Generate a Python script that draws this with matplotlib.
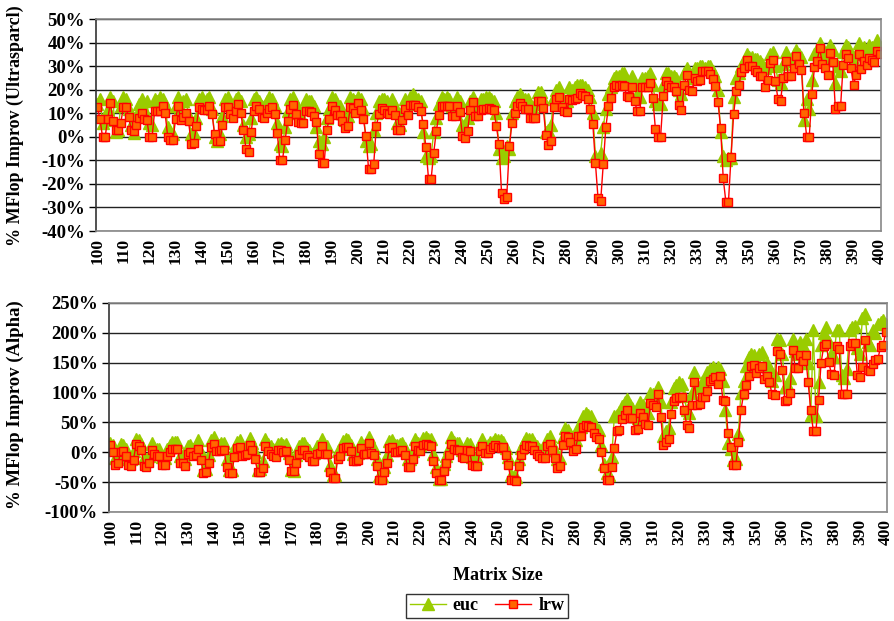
import numpy as np
import matplotlib
matplotlib.use("Agg")
import matplotlib.pyplot as plt
from matplotlib.ticker import FuncFormatter

# -----------------------------------------------------------------------------
# Data: % MFlop improvement per matrix size (100..400)
# -----------------------------------------------------------------------------

sizes = list(range(100, 401))
tick_sizes = list(range(100, 401, 10))
series_names = ['euc', 'lrw']

# Ultrasparc I, euc
euc_ultra = [
    14, 16, 6, 7, 12, 17, 15, 2, 3, 13,
    17, 16, 12, 5, 1.5, 9, 14, 16, 12, 15,
    6, 5, 16, 15, 17, 16, 14, 4, 2, 1,
    13, 17, 12, 15, 16, 9, 1, 1.5, 8, 16,
    17, 15, 16, 17, 12, 0, -2, 1, 9, 16,
    17, 14, 13, 16, 17, 15, 5, 0, 1, 8,
    16, 17, 15, 13, 12, 15, 17, 16, 13, 6,
    -3, -4, 4, 11, 16, 17, 14, 10, 9, 12,
    16, 15, 15, 13, 4, -2, -3, 0, 8, 12,
    17, 16, 14, 13, 10, 7, 9, 17, 16, 15,
    17, 16, 12, -2, -4, -3, 3, 10, 15, 16,
    16, 15, 14, 16, 13, 6, 5, 11, 16, 14,
    17, 18, 17, 16, 15, 2, -8, -9, -8, 2,
    8, 14, 17, 16, 17, 16, 13, 13, 17, 15,
    5, 4, 8, 15, 17, 14, 13, 16, 16, 17,
    17, 16, 15, 10, -5, -9, -8, -4, -5, 10,
    15, 17, 18, 17, 16, 16, 13, 12, 14, 19,
    19, 16, 2, 3, 5, 17, 20, 21, 17, 15,
    15, 21, 20, 21, 22, 22, 22, 21, 20, 17,
    10, -8, -10, -7, 4, 12, 18, 21, 25, 26,
    26, 27, 27, 24, 23, 26, 22, 18, 17, 25,
    25, 26, 27, 22, 15, 14, 14, 22, 27, 27,
    26, 26, 25, 20, 18, 27, 29, 27, 25, 29,
    29, 30, 30, 29, 30, 30, 28, 26, 20, 2,
    -8, -10, -9, -9, 17, 25, 27, 30, 32, 35,
    34, 34, 33, 33, 32, 31, 29, 31, 35, 36,
    30, 24, 23, 31, 36, 33, 32, 35, 37, 35,
    34, 7, 16, 12, 24, 35, 36, 40, 36, 35,
    33, 39, 37, 23, 30, 28, 36, 39, 38, 35,
    32, 35, 40, 36, 38, 37, 39, 38, 37, 41,
    38,
]

# Ultrasparc I, lrw
lrw_ultra = [
    12.5, 7.7, 0, 0, 7.5, 14.5, 6.5, 3, 3, 6,
    12.5, 12.5, 8.5, 3, 2.5, 5, 8, 10, 7.5, 7,
    0, 0, 11, 11, 11, 13, 10, 0, -1.5, -1.5,
    7.5, 13, 7, 8.5, 10, 6.5, -3, -2.5, 4.5, 12.5,
    12, 11.5, 11.5, 13, 9.5, 1, -2, -2, 5, 12.5,
    12.5, 9.5, 8, 11, 14, 10, 3, -5, -6.5, 2,
    11, 13, 12, 8.5, 8, 10, 12, 12.5, 9.5, 1.5,
    -10, -10, -1.5, 6.5, 12, 13.5, 9.6, 6.2, 5.8, 6,
    11, 11, 10.6, 9, 6.2, -7.4, -11.2, -11, 3, 7.7,
    13, 11.5, 9.4, 9.4, 6.5, 3.7, 4.7, 12.5, 12.2, 10,
    14.3, 11.5, 7.7, 0.4, -13.6, -13.6, -11.5, 4.7, 9.6, 12.2,
    11.5, 10, 9.6, 11.5, 9.4, 3, 2.7, 7.2, 11.9, 9.4,
    13.6, 13.5, 13.5, 12.6, 11, 5.4, -4.5, -17.9, -17.9, -6.8,
    2.6, 9.4, 12.9, 12.9, 12.9, 12.9, 8.7, 8.7, 12.9, 10.4,
    0.4, -0.6, 2.6, 11.5, 14.8, 9, 9, 11.5, 11.8, 12,
    12.2, 11.9, 11.5, 4.7, -3, -23.7, -26.5, -25.4, -4.1, 5.8,
    10, 12.9, 14.3, 12.9, 11.9, 11.9, 8, 7.8, 8, 15,
    15, 12.2, 0.6, -3.4, -2, 12.6, 16, 16.9, 12.6, 10.8,
    10.5, 16, 15.7, 16.2, 16.5, 18.6, 17.9, 17.2, 16, 12,
    5.5, -11.2, -26.1, -27.4, -11.6, 4.1, 12.9, 16.5, 21.1, 22.1,
    21.7, 22.1, 21.7, 17.2, 16.7, 21, 15, 11.1, 10.8, 21,
    21, 21.1, 22.8, 16.3, 3.3, 0.1, 0.1, 17.2, 23.5, 22.1,
    21.1, 21, 19.3, 13.6, 11.2, 21.8, 26.4, 20, 19.3, 25,
    23.8, 24.3, 27.8, 27.8, 28.1, 26.8, 24.7, 21.4, 14.8, 3.7,
    -17.6, -27.5, -27.9, -8.4, 9.6, 19.6, 22.1, 27.4, 29.2, 32.8,
    29.9, 29.9, 28.5, 27.4, 25.7, 26, 21, 24, 31.3, 32.8,
    23.5, 16, 15.3, 25, 32.1, 26, 26, 29.2, 34.2, 31.1,
    28.5, 10, 0.1, 0.1, 18.3, 29.6, 32.1, 37.7, 30.9, 29.2,
    26.4, 35.6, 31.6, 11.8, 13.2, 12.9, 30.6, 35.2, 33.5, 29,
    22.1, 26.4, 35.2, 28.8, 32.1, 30.6, 33.5, 32.8, 31.8, 36.3,
    35.2,
]

# Alpha, euc
euc_alpha = [
    15, 12, -10, -5, 14, 13, 5, -12, -12, 2,
    22, 20, 14, -10, -12, -6, 15, 8, 5, 6,
    -8, -10, 5, 12, 18, 18, 18, -6, -5, -12,
    10, 12, 5, 6, 20, 0, -30, -28, -5, 20,
    25, 14, 12, 15, 16, -12, -30, -30, 5, 18,
    20, 6, 8, 10, 24, 15, 0, -30, -28, -15,
    22, 14, 10, 6, 4, 14, 16, 12, 14, -2,
    -30, -32, -5, 10, 16, 15, 8, 4, -3, -2,
    10, 12, 22, 10, 10, -22, -38, -38, 2, 5,
    19, 22, 20, 13, -3, -2, -1, 18, 10, 10,
    25, 12, 8, -12, -40, -40, -25, -5, 19, 21,
    13, 12, 14, 15, 8, -12, -12, 2, 22, 15,
    13, 24, 25, 23, 22, -3, -25, -44, -44, -20,
    -6, 7, 25, 18, 16, 15, 4, 2, 15, 14,
    -8, -10, -10, 14, 22, 11, 12, 18, 18, 22,
    20, 20, 18, 8, -8, -38, -40, -42, -12, 8,
    18, 24, 22, 22, 15, 10, 6, 4, 4, 22,
    27, 16, 3, -12, -10, 25, 40, 38, 30, 15,
    20, 42, 42, 60, 65, 62, 60, 48, 42, 38,
    12, -20, -35, -38, -8, 60, 62, 68, 78, 85,
    90, 80, 75, 60, 58, 85, 80, 68, 65, 100,
    98, 95, 110, 85, 28, 35, 40, 85, 108, 112,
    118, 115, 95, 70, 65, 100, 135, 110, 108, 118,
    120, 135, 140, 142, 140, 142, 140, 120, 70, 15,
    5, -13, -12, 31, 100, 120, 145, 160, 165, 163,
    155, 165, 168, 145, 150, 142, 120, 130, 190, 188,
    165, 110, 115, 125, 190, 170, 165, 185, 180, 190,
    150, 62, 205, 60, 118, 180, 200, 210, 185, 165,
    160, 205, 205, 130, 125, 140, 205, 210, 212, 175,
    165, 225, 232, 185, 180, 205, 200, 215, 218, 222,
    215,
]

# Alpha, lrw
lrw_alpha = [
    11.8, 0.6, -20.8, -18, 0, 1.7, -6.7, -21.9, -23.6, -12.4,
    14.6, 10.1, 4.5, -23, -24.7, -18, 3.4, -2.2, -6.2, -6.7,
    -20.8, -21.9, -6.7, 0.6, 6.2, 6.2, 6.2, -18, -18, -23.6,
    -2.2, 0.6, -6.2, -5, 6.2, -12.4, -34.8, -33.1, -17.4, 9,
    13.5, 1.7, 1.7, 3.4, 4.5, -24.7, -34.8, -34.8, -7.9, 7.9,
    9, -6.7, -3.9, -2.2, 12.9, 3.4, -11.8, -33.1, -33.1, -25.8,
    10.1, 2.2, -2.2, -6.2, -7.9, 3.4, 4.5, 0.6, 1.7, -13.5,
    -32, -32, -17.4, -2.2, 4.5, 4.5, -3.9, -7.9, -15.2, -14.6,
    -2.2, -1.1, 10.1, -2.2, -2.2, -33.1, -43.3, -43.3, -10.7, -6.7,
    7.3, 9, 9, 2.2, -14.6, -14.6, -13.5, 7.3, -2.2, -2.2,
    15.7, -1.1, -3.9, -23.6, -46.1, -46.1, -33.1, -17.4, 7.3, 9,
    0.6, 0.6, 1.7, 3.4, -3.9, -24.7, -24.7, -10.7, 10.7, 3.4,
    1.7, 12.9, 14.6, 11.8, 10.1, -15.2, -34.8, -46.1, -46.1, -32,
    -18, -5, 14.6, 6.2, 4.5, 3.4, -7.9, -9.6, 3.4, 1.7,
    -20.8, -23, -23, 2.2, 10.1, -1.1, -1.1, 6.2, 9, 11.8,
    9, 8, 9, -5, -21.9, -47.2, -46.1, -48.9, -23.6, -5,
    6.2, 12.9, 10.1, 10.1, 3.4, -2.2, -6.2, -9.6, -9.6, 10.1,
    14.6, 4.5, -9.6, -26.4, -23.6, 12.9, 27.5, 25.8, 17.4, 2.2,
    6.2, 27, 27, 42.7, 45.5, 43.8, 42.7, 31.5, 25.8, 23,
    0.6, -26.4, -46.1, -46.1, -24.7, 7.9, 36, 37.1, 55.1, 62.4,
    70.8, 57.9, 56.7, 37.1, 38.8, 66.3, 59.6, 46.6, 45.5, 82,
    79.2, 75.3, 97.2, 58.4, 11.8, 17.4, 21.9, 64, 86.5, 90.4,
    92.1, 92.1, 70, 46, 41, 79, 117.4, 79.2, 80.3, 92.1,
    92.1, 103.4, 120.2, 122.5, 125.8, 114, 128.1, 87.6, 86, 31.5,
    9, -21.9, -21.9, 17.4, 70.8, 97.2, 112.9, 128.1, 143.8, 146.6,
    132.6, 141, 144.9, 122.5, 128.1, 118.5, 97.2, 96.1, 169.1, 164.6,
    137.1, 86.5, 87.6, 100, 171.9, 141, 141, 163.5, 153.4, 162.4,
    117.4, 70.8, 35.4, 35.4, 87.6, 149.4, 177.5, 181.5, 150.6, 130.9,
    129.8, 177.5, 173, 97.2, 97.2, 97.2, 178.7, 183.1, 183.1, 129.8,
    125.8, 142.7, 188.8, 138.2, 136.5, 148.3, 155.1, 156.7, 176.4, 179.2,
    201.7,
]

# -----------------------------------------------------------------------------
# Styling
# -----------------------------------------------------------------------------

plt.rcParams['font.family'] = ['Liberation Serif', 'DejaVu Serif']
plt.rcParams['font.weight'] = 'bold'

euc_style = dict(color='#99CC00', marker='^', markersize=8.5, lw=1,
                 mfc='#99CC00', mec='#99CC00')
lrw_style = dict(color='#FF0000', marker='s', markersize=5.5, lw=1,
                 mfc='#FF6600', mec='#FF0000', mew=1)

W, H = 895, 621
fig = plt.figure(figsize=(W / 100, H / 100), dpi=100)

# axes placed in pixel terms to match the reference layout
ax1 = fig.add_axes([96 / W, 1 - 231 / H, 785 / W, 212 / H])
ax2 = fig.add_axes([109 / W, 1 - 512 / H, 778 / W, 209 / H])


def style_panel(ax, ylo, yhi, step):
    ax.set_xlim(99.5, 400.5)
    ax.set_ylim(ylo, yhi)
    ax.set_yticks(np.arange(ylo, yhi + 1, step))
    ax.yaxis.set_major_formatter(FuncFormatter(lambda v, p: f"{v:.0f}%"))
    ax.set_xticks(tick_sizes)
    ax.set_xticklabels([str(t) for t in tick_sizes], rotation=90,
                       fontsize=12.5, fontweight='bold')
    ax.tick_params(axis='x', length=0, pad=5)
    ax.tick_params(axis='y', length=5, width=1, labelsize=13.5, pad=3)
    ax.grid(axis='y', color='#222222', lw=1)
    ax.set_axisbelow(True)
    for side in ['top', 'right', 'bottom']:
        ax.spines[side].set_color('#888888')
        ax.spines[side].set_linewidth(1.2)
    ax.spines['left'].set_color('#333333')
    ax.spines['left'].set_linewidth(1.2)


# -----------------------------------------------------------------------------
# Top panel: Ultrasparc I
# -----------------------------------------------------------------------------

ax1.plot(sizes, euc_ultra, **euc_style)
ax1.plot(sizes, lrw_ultra, **lrw_style)
style_panel(ax1, -40, 50, 10)

# -----------------------------------------------------------------------------
# Bottom panel: Alpha
# -----------------------------------------------------------------------------

h_euc, = ax2.plot(sizes, euc_alpha, **euc_style)
h_lrw, = ax2.plot(sizes, lrw_alpha, **lrw_style)
style_panel(ax2, -100, 250, 50)

# labels
fig.text(15 / W, 1 - 126 / H, '% MFlop Improv (Ultrasparcl)', rotation=90,
         ha='center', va='center', fontsize=13, fontweight='bold')
fig.text(15 / W, 1 - 405 / H, '% MFlop Improv (Alpha)', rotation=90,
         ha='center', va='center', fontsize=13.5, fontweight='bold')
fig.text(498 / W, 1 - 576 / H, 'Matrix Size', ha='center', va='center',
         fontsize=13, fontweight='bold')

leg = fig.legend([h_euc, h_lrw], series_names, loc='center',
                 bbox_to_anchor=(487 / W, 1 - 606 / H), ncol=2,
                 frameon=True, fancybox=False, edgecolor='black',
                 fontsize=13, handlelength=2.0, columnspacing=0.9,
                 borderpad=0.2, handletextpad=0.4)
leg.get_frame().set_linewidth(1)

fig.savefig('out.png', dpi=100)
